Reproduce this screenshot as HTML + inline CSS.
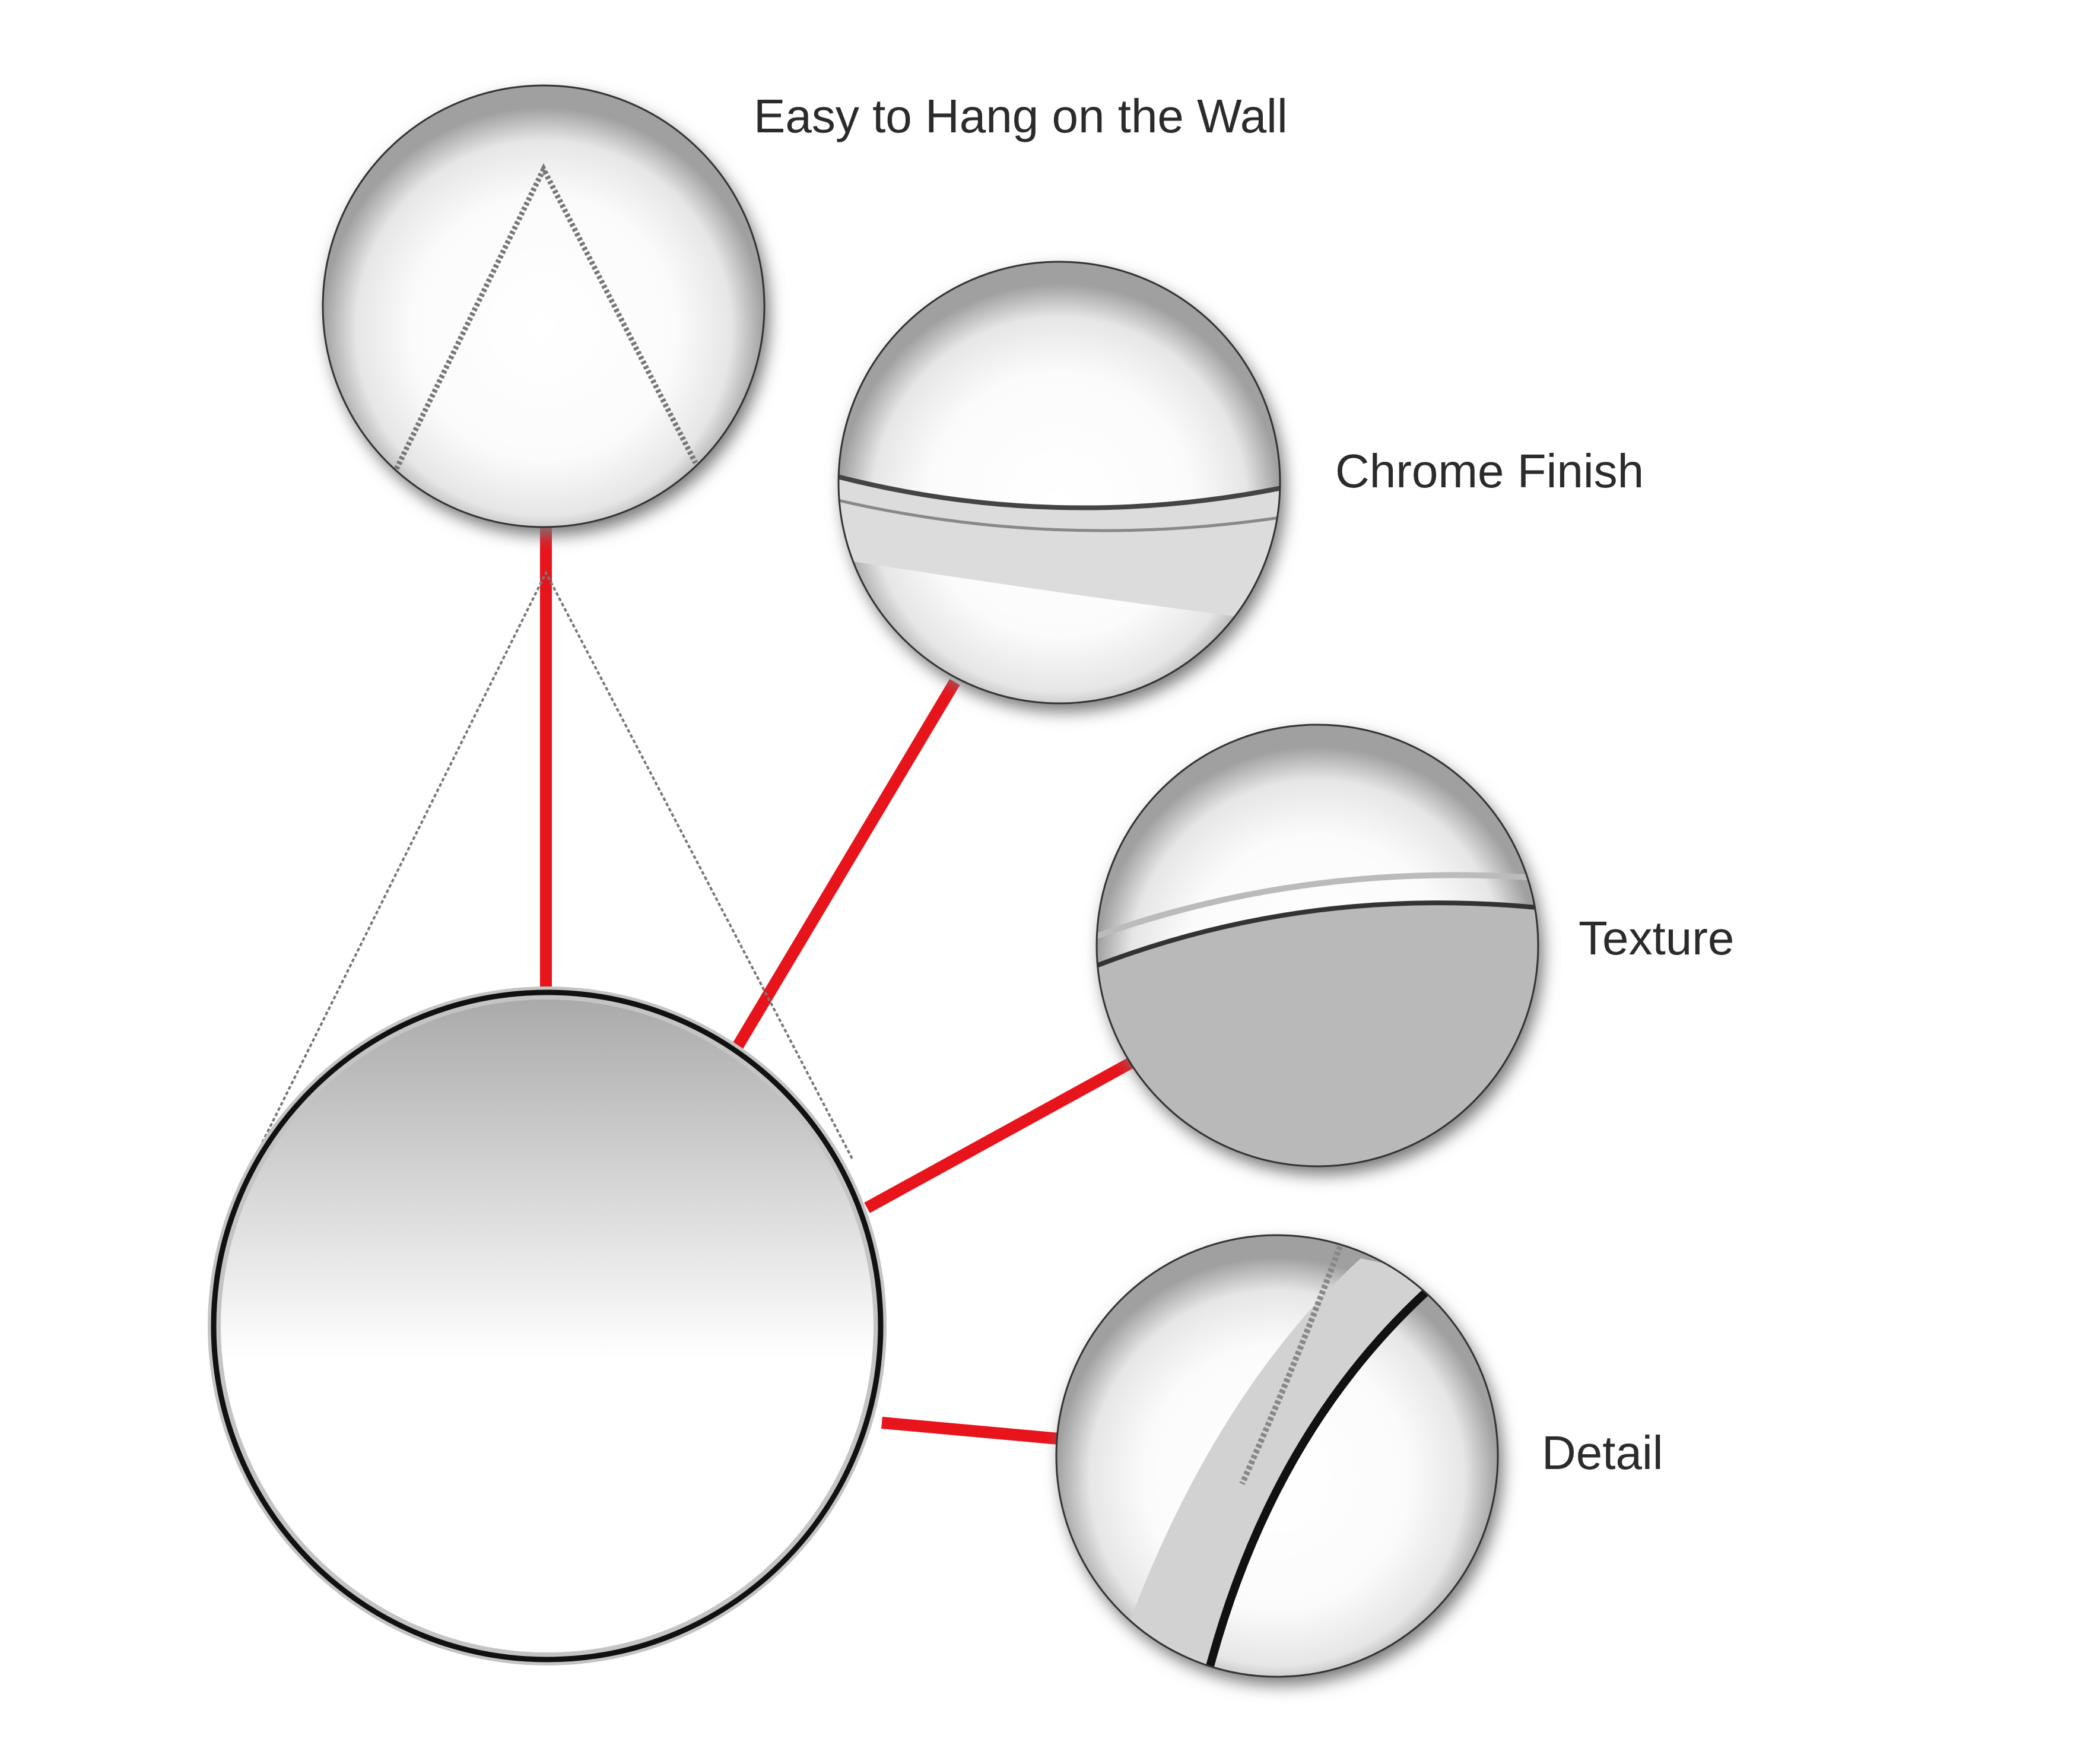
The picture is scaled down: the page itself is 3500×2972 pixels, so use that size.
<!DOCTYPE html>
<html><head><meta charset="utf-8"><style>
html,body{margin:0;padding:0;background:#fff;width:3500px;height:2972px;overflow:hidden}
svg{display:block}
text{font-family:"Liberation Sans",sans-serif;fill:#2b2b2b;font-size:80px}
</style></head><body>
<svg width="3500" height="2972" viewBox="0 0 3500 2972" xmlns="http://www.w3.org/2000/svg">
<defs>
<radialGradient id="lens" cx="50%" cy="55%" r="50%">
<stop offset="0" stop-color="#fff"/><stop offset="0.6" stop-color="#fbfbfb"/><stop offset="0.85" stop-color="#e6e6e6"/><stop offset="1" stop-color="#a0a0a0"/>
</radialGradient>
<linearGradient id="mir" x1="0" y1="0" x2="0" y2="1">
<stop offset="0" stop-color="#aaa"/><stop offset="0.55" stop-color="#fff"/><stop offset="1" stop-color="#fff"/>
</linearGradient>
<filter id="sh" x="-20%" y="-20%" width="140%" height="140%"><feGaussianBlur stdDeviation="14"/></filter>
<clipPath id="c2"><circle cx="1785" cy="813" r="372"/></clipPath>
<clipPath id="c3"><circle cx="2220" cy="1593" r="372"/></clipPath>
<clipPath id="c4"><circle cx="2152" cy="2453" r="372"/></clipPath>
</defs>
<g stroke="#e8141c" stroke-width="20">
<line x1="920" y1="880" x2="920" y2="1672"/>
<line x1="1609" y1="1149" x2="1241" y2="1766"/>
<line x1="1905" y1="1791" x2="1461" y2="2035"/>
<line x1="1784" y1="2424" x2="1486" y2="2397"/>
</g>
<g stroke="#777" stroke-width="4" stroke-dasharray="6 4" fill="none">
<polyline points="442,1925 920,965 1436,1952"/>
</g>
<circle cx="922" cy="2234" r="572" fill="#c4c4c4"/>
<circle cx="922" cy="2234" r="562" fill="none" stroke="#111" stroke-width="9"/>
<circle cx="922" cy="2234" r="550" fill="url(#mir)"/>
<g>
<circle cx="924" cy="530" r="372" fill="#777" filter="url(#sh)"/>
<circle cx="916" cy="516" r="372" fill="url(#lens)" stroke="#333" stroke-width="3"/>
<polyline points="668,790 916,285 1172,780" fill="none" stroke="#777" stroke-width="9" stroke-dasharray="5 4"/>
</g>
<g>
<circle cx="1793" cy="827" r="372" fill="#777" filter="url(#sh)"/>
<circle cx="1785" cy="813" r="372" fill="url(#lens)"/>
<g clip-path="url(#c2)">
<path d="M1400,800 Q1780,900 2170,820 L2170,1050 Q1780,1000 1400,940 Z" fill="#dcdcdc"/>
<path d="M1400,800 Q1780,900 2170,820" stroke="#444" stroke-width="8" fill="none"/>
<path d="M1400,840 Q1780,930 2170,870" stroke="#888" stroke-width="5" fill="none"/>
</g>
<circle cx="1785" cy="813" r="372" fill="none" stroke="#333" stroke-width="3"/>
</g>
<g>
<circle cx="2228" cy="1607" r="372" fill="#777" filter="url(#sh)"/>
<circle cx="2220" cy="1593" r="372" fill="url(#lens)"/>
<g clip-path="url(#c3)">
<path d="M1840,1630 Q2200,1490 2600,1530 L2600,2000 L1840,2000 Z" fill="#b9b9b9"/>
<path d="M1840,1630 Q2200,1490 2600,1530" stroke="#333" stroke-width="8" fill="none"/>
<path d="M1840,1580 Q2200,1450 2600,1480" stroke="#bbb" stroke-width="10" fill="none"/>
</g>
<circle cx="2220" cy="1593" r="372" fill="none" stroke="#333" stroke-width="3"/>
</g>
<g>
<circle cx="2160" cy="2467" r="372" fill="#777" filter="url(#sh)"/>
<circle cx="2152" cy="2453" r="372" fill="url(#lens)"/>
<g clip-path="url(#c4)">
<path d="M1893,2760 Q2043,2350 2293,2120 L2433,2150 Q2143,2400 2033,2830 Z" fill="#d2d2d2"/>
<path d="M2433,2150 Q2143,2400 2033,2830" stroke="#111" stroke-width="14" fill="none"/>
<path d="M2258,2100 Q2183,2300 2093,2500" stroke="#888" stroke-width="10" stroke-dasharray="6 4" fill="none"/>
</g>
<circle cx="2152" cy="2453" r="372" fill="none" stroke="#333" stroke-width="3"/>
</g>
<text x="1270" y="223">Easy to Hang on the Wall</text>
<text x="2250" y="821">Chrome Finish</text>
<text x="2660" y="1608">Texture</text>
<text x="2598" y="2475">Detail</text>
</svg>
</body></html>
